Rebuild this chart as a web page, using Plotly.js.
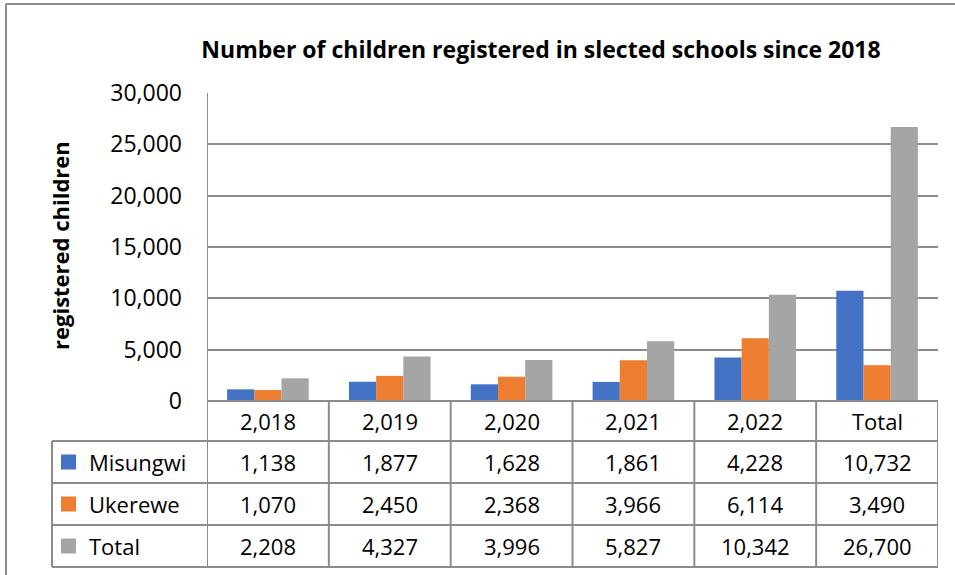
<!DOCTYPE html>
<html>
<head>
<meta charset="utf-8">
<script src="https://cdn.plot.ly/plotly-3.0.1.min.js"></script>
<style>html,body{margin:0;padding:0;background:#fff;}#chart{width:955px;height:575px;}</style>
</head>
<body>
<div id="chart"></div>
<script>
const categories = ['2,018', '2,019', '2,020', '2,021', '2,022', 'Total'];
const seriesNames = ['Misungwi', 'Ukerewe', 'Total'];
const misungwi = [1138, 1877, 1628, 1861, 4228, 10732];
const ukerewe = [1070, 2450, 2368, 3966, 6114, 3490];
const totals = [2208, 4327, 3996, 5827, 10342, 26700];
const colors = ['#4472C4', '#ED7D31', '#A5A5A5'];
const seriesValues = [misungwi, ukerewe, totals];

const FONT = '"Open Sans", Lato, "Liberation Sans", sans-serif';
const W = 955, H = 575;
const px = x => x / W;
const py = y => (H - y) / H;

// geometry (pixels)
const plotL = 207, plotR = 938, plotT = 93, plotB = 401;
const rowEdges = [401, 441, 483, 525, 567];
const tableL = 52;
const gridColor = '#8c8c8c';

const traces = seriesNames.map((name, i) => ({
  type: 'bar',
  name: name,
  x: categories,
  y: seriesValues[i],
  marker: {color: colors[i]},
  hoverinfo: 'x+y+name'
}));

const shapes = [];
const annotations = [];
const line = (o) => shapes.push(Object.assign({type: 'line', layer: 'above', line: {color: gridColor, width: 2}}, o));

// outer chart border
line({xref: 'paper', yref: 'paper', x0: px(6), x1: 1.01, y0: py(4), y1: py(4), line: {color: '#8c8c8c', width: 2}});
line({xref: 'paper', yref: 'paper', x0: px(6), x1: px(6), y0: py(4), y1: -0.01, line: {color: '#8c8c8c', width: 2}});

// vertical axis line from top of plot to table bottom
line({xref: 'x', yref: 'paper', x0: -0.5, x1: -0.5, y0: py(plotT), y1: py(rowEdges[4])});
// category separators in table
for (let k = 1; k <= categories.length; k++) {
  line({xref: 'x', yref: 'paper', x0: k - 0.5, x1: k - 0.5, y0: py(rowEdges[0]), y1: py(rowEdges[4])});
}
// left table border
line({xref: 'paper', yref: 'paper', x0: px(tableL), x1: px(tableL), y0: py(rowEdges[1]), y1: py(rowEdges[4])});
// horizontal table lines
line({xref: 'x', yref: 'paper', x0: -0.5, x1: categories.length - 0.5, y0: py(rowEdges[0]), y1: py(rowEdges[0])});
for (let r = 1; r < rowEdges.length; r++) {
  shapes.push({type: 'line', layer: 'above', xref: 'paper', yref: 'paper', x0: px(tableL), x1: px(plotR), y0: py(rowEdges[r]), y1: py(rowEdges[r]), line: {color: gridColor, width: 2}});
}

const cellFont = {family: FONT, size: 22, color: '#000'};
// header row
categories.forEach((c) => {
  annotations.push({xref: 'x', yref: 'paper', x: c, y: py((rowEdges[0] + rowEdges[1]) / 2), text: c, showarrow: false, font: cellFont, xanchor: 'center', yanchor: 'middle'});
});
// data rows
seriesNames.forEach((name, r) => {
  const yc = py((rowEdges[r + 1] + rowEdges[r + 2]) / 2);
  // legend key
  shapes.push({type: 'rect', xref: 'paper', yref: 'paper', x0: px(61), x1: px(76), y0: yc - 7.5 / H, y1: yc + 7.5 / H, fillcolor: colors[r], line: {width: 0}, layer: 'above'});
  annotations.push({xref: 'paper', yref: 'paper', x: px(87), y: yc, text: name, showarrow: false, font: cellFont, xanchor: 'left', yanchor: 'middle'});
  categories.forEach((c, i) => {
    annotations.push({xref: 'x', yref: 'paper', x: c, y: yc, text: seriesValues[r][i].toLocaleString('en-US'), showarrow: false, font: cellFont, xanchor: 'center', yanchor: 'middle'});
  });
});

// axis title
annotations.push({xref: 'paper', yref: 'paper', x: px(60), y: py(246), text: '<b>registered children</b>', textangle: -90, showarrow: false, font: {family: FONT, size: 22, color: '#000'}, xanchor: 'center', yanchor: 'middle'});

const layout = {
  width: W, height: H,
  margin: {l: 0, r: 0, t: 0, b: 0, pad: 0},
  paper_bgcolor: '#fff', plot_bgcolor: '#fff',
  title: {text: '<b>Number of children registered in slected schools since 2018</b>', font: {family: FONT, size: 23, color: '#000'}, x: px(541), xanchor: 'center', y: py(50), yanchor: 'middle', xref: 'paper', yref: 'paper'},
  showlegend: false,
  barmode: 'group',
  bargap: 0.33,
  bargroupgap: 0,
  xaxis: {domain: [px(plotL), px(plotR)], type: 'category', range: [-0.5, categories.length - 0.5], showticklabels: false, showgrid: false, zeroline: false, showline: false, ticks: '', fixedrange: true},
  yaxis: {domain: [py(plotB), py(plotT)], range: [0, 30000], dtick: 5000, tick0: 0, tickformat: ',', showgrid: true, gridcolor: gridColor, gridwidth: 2, zeroline: false, showline: false, ticks: '', ticklabelstandoff: 24, tickfont: {family: FONT, size: 23, color: '#000'}, fixedrange: true},
  shapes: shapes,
  annotations: annotations
};

Plotly.newPlot('chart', traces, layout, {displayModeBar: false, staticPlot: true});
</script>
</body>
</html>
